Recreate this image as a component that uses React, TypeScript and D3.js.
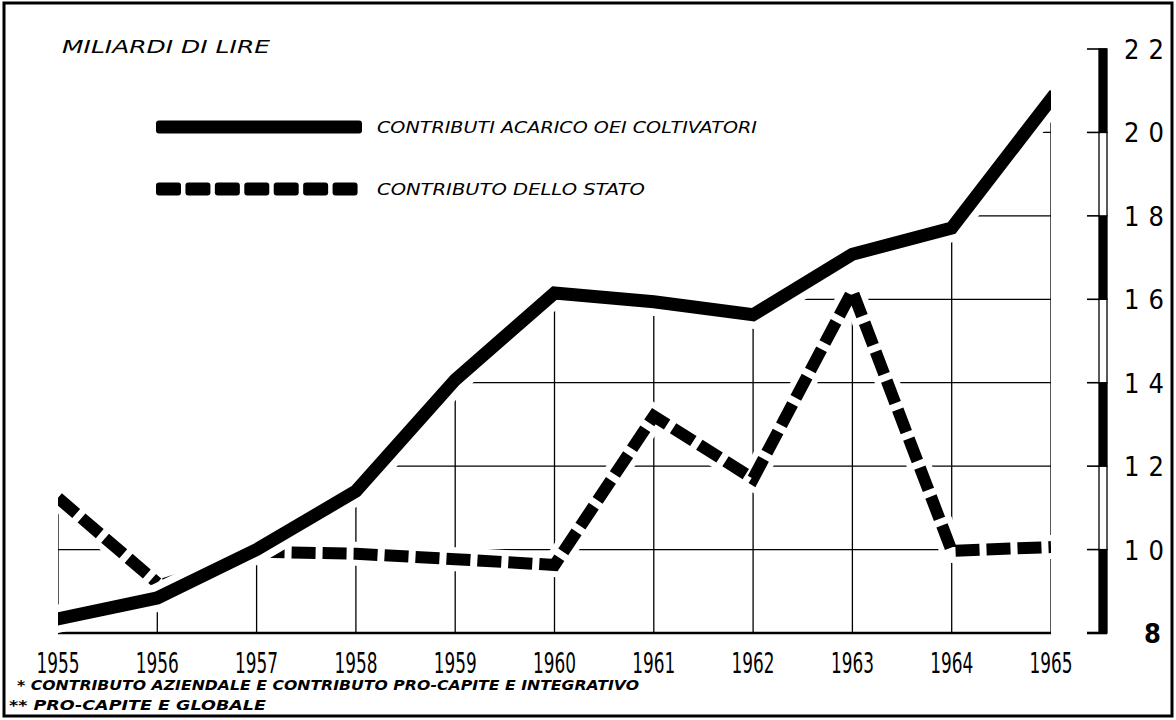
import React from 'react';
import * as d3 from 'd3';

// anni e valori (miliardi di lire)
const years = [1955, 1956, 1957, 1958, 1959, 1960, 1961, 1962, 1963, 1964, 1965];
const contributiColtivatori = [8.34, 8.84, 10.0, 11.4, 14.07, 16.15, 15.94, 15.63, 17.08, 17.71, 20.8];
const contributoStato = [11.24, 9.2, 9.95, 9.9, 9.77, 9.63, 13.2, 11.7, 16.2, 9.97, 10.06];
const yTicks = [8, 10, 12, 14, 16, 18, 20, 22];
const gridValues = [10, 12, 14, 16, 18, 20];

const titleText = 'MILIARDI DI LIRE';
const legendSolid = 'CONTRIBUTI ACARICO OEI COLTIVATORI';
const legendDashed = 'CONTRIBUTO DELLO STATO';
const note1 = '* CONTRIBUTO AZIENDALE E CONTRIBUTO PRO-CAPITE E INTEGRATIVO';
const note2 = '** PRO-CAPITE E GLOBALE';

const W = 1176;
const H = 720;
const italicFont = "'DejaVu Sans', sans-serif";
const narrowFont = "'Liberation Sans Narrow', 'DejaVu Sans Condensed', sans-serif";

export default function App() {
  const x = d3.scaleLinear().domain([1955, 1965]).range([58, 1051]);
  const y = d3.scaleLinear().domain([8, 22]).range([633, 49]);

  const solidPts = years.map((yr, i) => [yr, contributiColtivatori[i]] as [number, number]);
  const dashPts = years.map((yr, i) => [yr, contributoStato[i]] as [number, number]);

  const line = d3
    .line<[number, number]>()
    .x(d => x(d[0]))
    .y(d => y(d[1]));

  const area = d3
    .area<[number, number]>()
    .x(d => x(d[0]))
    .y0(y(8))
    .y1(d => y(d[1]));

  // the dashed series: thick, thin piece 1956-1957, thick again
  const dashA = dashPts.slice(0, 2);
  const dashThin = dashPts.slice(1, 3);
  const dashB = dashPts.slice(2);

  const [x0, x1] = x.range();

  // legend swatches
  const legendX = d3.scaleLinear().domain([0, 7]).range([156, 362]);
  const legendDashes = d3.range(7);

  return (
    <svg
      width={W}
      height={H}
      style={{ position: 'absolute', left: 0, top: 0, background: '#fff' }}
    >
      <defs>
        <clipPath id="under">
          <path d={area(solidPts) || ''} />
          <path d={area(dashPts) || ''} />
        </clipPath>
        <clipPath id="plotx">
          <rect x={x0} y={0} width={x1 - x0} height={H} />
        </clipPath>
      </defs>

      <rect x={0} y={0} width={W} height={H} fill="#fff" />
      <rect x={4} y={3} width={1168} height={713} fill="none" stroke="#000" strokeWidth={3} />

      {/* griglia, solo sotto le curve */}
      <g clipPath="url(#under)" stroke="#000" strokeWidth={1.3}>
        {years.map(yr => (
          <line key={'v' + yr} x1={x(yr)} x2={x(yr)} y1={y(8)} y2={y(22)} />
        ))}
        {gridValues.map(v => (
          <line key={'h' + v} x1={x0} x2={x1} y1={y(v)} y2={y(v)} />
        ))}
      </g>
      <line x1={x0} x2={x1} y1={y(8)} y2={y(8)} stroke="#000" strokeWidth={2.6} />

      <g clipPath="url(#plotx)" fill="none">
        {/* contributo dello stato */}
        <path d={line(dashA) || ''} stroke="#fff" strokeWidth={24} strokeLinejoin="miter" />
        <path d={line(dashB) || ''} stroke="#fff" strokeWidth={24} strokeLinejoin="miter" strokeLinecap="square" />
        <path d={line(dashThin) || ''} stroke="#fff" strokeWidth={12} />
        <path d={line(dashThin) || ''} stroke="#000" strokeWidth={6} strokeDasharray="14 6" strokeDashoffset={-6} />
        <path d={line(dashA) || ''} stroke="#000" strokeWidth={12} strokeDasharray="24 7" strokeLinejoin="miter" />
        <path d={line(dashB) || ''} stroke="#000" strokeWidth={12} strokeDasharray="24 7" strokeDashoffset={-4} strokeLinejoin="miter" />

        {/* contributi a carico dei coltivatori */}
        <path d={line(solidPts) || ''} stroke="#fff" strokeWidth={28} strokeLinejoin="miter" strokeLinecap="square" />
        <path d={line(solidPts) || ''} stroke="#000" strokeWidth={13} strokeLinejoin="miter" strokeLinecap="square" />
      </g>

      {/* asse destro */}
      <g>
        {yTicks.slice(0, -1).map((v, i) => (
          <rect
            key={'seg' + v}
            x={1099}
            y={y(v + 2)}
            width={8}
            height={y(v) - y(v + 2)}
            fill={i % 2 === 0 ? '#000' : '#fff'}
            stroke="#000"
            strokeWidth={1.3}
          />
        ))}
        {yTicks.map(v => (
          <line
            key={'t' + v}
            x1={1087}
            x2={v === 8 || v === 22 ? 1107 : 1099}
            y1={y(v)}
            y2={y(v)}
            stroke="#000"
            strokeWidth={v === 8 ? 2.6 : 1.6}
          />
        ))}
        {yTicks.map(v => (
          <text
            key={'l' + v}
            x={v < 10 ? 1144 : 1124}
            y={y(v) + 10}
            fontFamily={narrowFont}
            fontSize={27}
            fontWeight={v < 10 ? 'bold' : 'normal'}
            letterSpacing={v < 10 ? 0 : 9}
          >
            {String(v)}
          </text>
        ))}
      </g>

      {/* anni */}
      {years.map(yr => (
        <text
          key={'y' + yr}
          x={x(yr)}
          y={673}
          textAnchor="middle"
          fontFamily={narrowFont}
          fontSize={29}
          textLength={43}
          lengthAdjust="spacingAndGlyphs"
        >
          {yr}
        </text>
      ))}

      {/* titolo e legenda */}
      <text x={62} y={53} fontFamily={italicFont} fontStyle="italic" fontSize={18} textLength={208} lengthAdjust="spacingAndGlyphs">
        {titleText}
      </text>

      <rect x={156} y={120.5} width={206} height={13} rx={3} fill="#000" />
      <text x={377} y={133} fontFamily={italicFont} fontStyle="italic" fontSize={16.5} textLength={380} lengthAdjust="spacingAndGlyphs">
        {legendSolid}
      </text>

      {legendDashes.map(i => (
        <rect key={'ld' + i} x={legendX(i)} y={182.5} width={25} height={13} rx={3} fill="#000" />
      ))}
      <text x={377} y={195} fontFamily={italicFont} fontStyle="italic" fontSize={16.5} textLength={268} lengthAdjust="spacingAndGlyphs">
        {legendDashed}
      </text>

      {/* note */}
      <text x={17} y={690} fontFamily={italicFont} fontStyle="italic" fontWeight="bold" fontSize={14} textLength={622} lengthAdjust="spacingAndGlyphs">
        {note1}
      </text>
      <text x={9} y={710} fontFamily={italicFont} fontStyle="italic" fontWeight="bold" fontSize={14} textLength={257} lengthAdjust="spacingAndGlyphs">
        {note2}
      </text>
    </svg>
  );
}
